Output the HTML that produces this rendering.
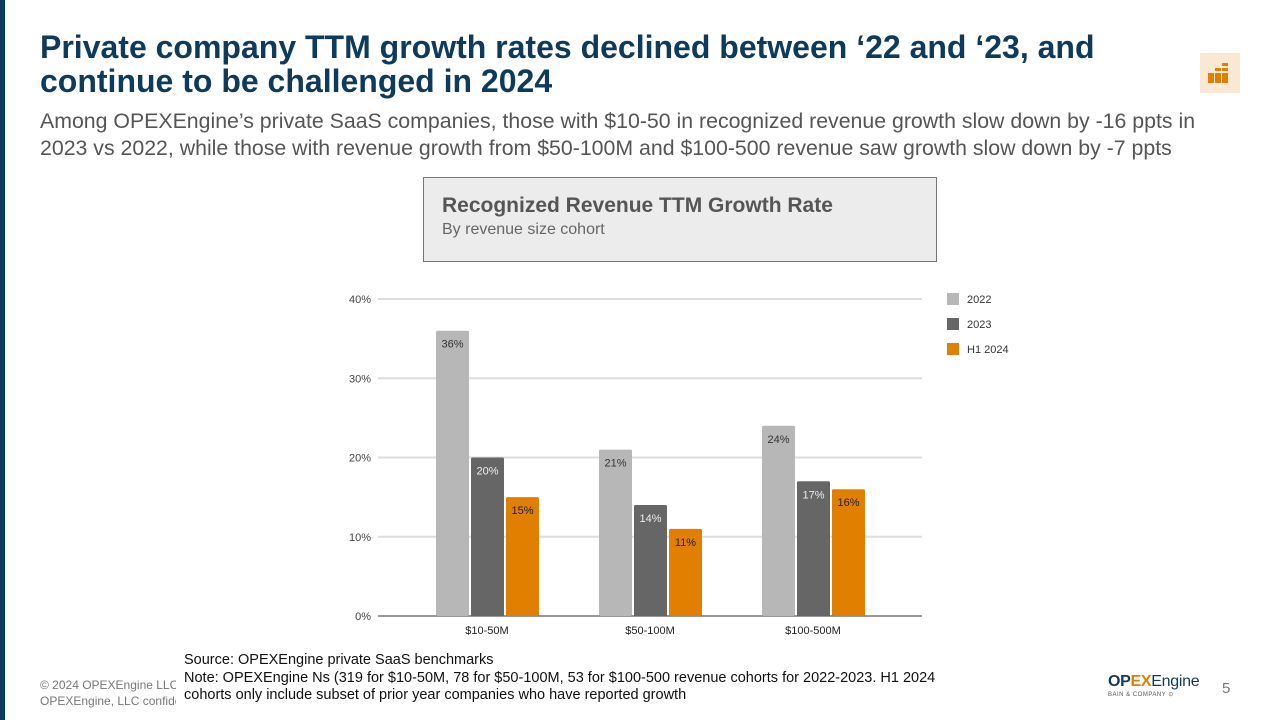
<!DOCTYPE html>
<html><head><meta charset="utf-8"><style>
body{margin:0;width:1280px;height:720px;background:#fff;position:relative;overflow:hidden;font-family:"Liberation Sans",Arial,sans-serif}
.abs{position:absolute}
</style></head><body>
<div class="abs" style="left:0;top:0;width:5px;height:720px;background:#0e3a5c"></div>
<div class="abs" style="left:40px;top:30px;width:1110px;font-size:32px;font-weight:bold;color:#0e3a5c;line-height:34px">Private company TTM growth rates declined between ‘22 and ‘23, and continue to be challenged in 2024</div>
<div class="abs" style="left:1200px;top:53px;width:40px;height:40px;background:#fbe8d4">
<svg width="40" height="40" viewBox="0 0 40 40" style="display:block"><g fill="#e07f00"><rect x="8" y="20" width="6" height="10"/><rect x="15" y="15" width="6" height="3"/><rect x="15" y="20" width="6" height="10"/><rect x="22" y="10" width="6" height="3"/><rect x="22" y="15" width="6" height="3"/><rect x="22" y="20" width="6" height="10"/></g></svg></div>
<div class="abs" style="left:40px;top:108px;width:1190px;font-size:21.3px;color:#555;line-height:27px">Among OPEXEngine’s private SaaS companies, those with $10-50 in recognized revenue growth slow down by -16 ppts in 2023 vs 2022, while those with revenue growth from $50-100M and $100-500 revenue saw growth slow down by -7 ppts</div>
<div class="abs" style="left:423px;top:177px;width:512px;height:83px;background:#ececec;border:1px solid #777">
<div style="position:absolute;left:18px;top:16px;font-size:21px;font-weight:bold;color:#555">Recognized Revenue TTM Growth Rate</div>
<div style="position:absolute;left:18px;top:43px;font-size:16px;color:#666">By revenue size cohort</div></div>
<svg class="abs" style="left:0;top:0" width="1280" height="720" id="chart"></svg>
<div class="abs" style="left:184px;top:652px;font-size:14.5px;color:#111;line-height:17.5px;white-space:nowrap">Source: OPEXEngine private SaaS benchmarks<br>Note: OPEXEngine Ns (319 for $10-50M, 78 for $50-100M, 53 for $100-500 revenue cohorts for 2022-2023. H1 2024<br>cohorts only include subset of prior year companies who have reported growth</div>
<div class="abs" style="left:40px;top:677px;width:136px;overflow:hidden;white-space:nowrap;font-size:12px;color:#777;line-height:16px">© 2024 OPEXEngine LLC<br>OPEXEngine, LLC confidential</div>
<div class="abs" style="left:1108px;top:673px;font-size:16px;color:#0e3a5c;font-weight:bold;letter-spacing:-0.3px">OP<span style="color:#e07f00">EX</span><span style="font-weight:normal">Engine</span><div style="font-size:6px;color:#555;font-weight:normal;letter-spacing:0.5px">BAIN &amp; COMPANY ⊙</div></div>
<div class="abs" style="left:1222px;top:680px;font-size:15px;color:#777">5</div>
<script>
const categories=["$10-50M","$50-100M","$100-500M"];
const seriesNames=["2022","2023","H1 2024"];
const s2022=[36,21,24];
const s2023=[20,14,17];
const sH1=[15,11,16];
const ticks=[0,10,20,30,40];
const colors=["#b7b7b7","#666666","#e07f00"];
const labelColors=["#333","#eee","#222"];
const svg=document.getElementById('chart');const NS="http://www.w3.org/2000/svg";
const y0=616,pxPer=(616-299)/40;
const y=v=>y0-v*pxPer;
const x=i=>487+i*163;
function mk(t,a,txt){const e=document.createElementNS(NS,t);for(const k in a)e.setAttribute(k,a[k]);if(txt!==undefined)e.textContent=txt;svg.appendChild(e);return e;}
ticks.forEach(t=>{
 const l=mk('line',{x1:378,x2:922,y1:y(t),y2:y(t),stroke:t?'#ddd':'#333','stroke-width':t?2:1});
 
 
 const tx=mk('text',{x:371,y:y(t)+4,'text-anchor':'end','font-size':11,fill:'#444','font-family':'Liberation Sans'},t+'%');
 
 
});
const series=[s2022,s2023,sH1];
series.forEach((s,j)=>{s.forEach((v,i)=>{
 const bx=x(i)-51+j*35;
 const r=mk('rect',{x:bx,y:y(v),width:33,height:y0-y(v),fill:colors[j],rx:1.5});
 
 
 const t=mk('text',{x:bx+16.5,y:y(v)+17,'text-anchor':'middle','font-size':11,fill:labelColors[j],'font-family':'Liberation Sans'},v+'%');
 
 
});});
categories.forEach((c,i)=>{
 const t=mk('text',{x:x(i),y:634,'text-anchor':'middle','font-size':11,fill:'#222','font-family':'Liberation Sans'},c);
 
 
});
seriesNames.forEach((n,j)=>{
 const r=mk('rect',{x:947,y:293+j*25,width:12,height:12,fill:colors[j]});
 
 
 const t=mk('text',{x:967,y:303+j*25,'font-size':11,fill:'#333','font-family':'Liberation Sans'},n);
 
 
});
</script>
</body></html>
